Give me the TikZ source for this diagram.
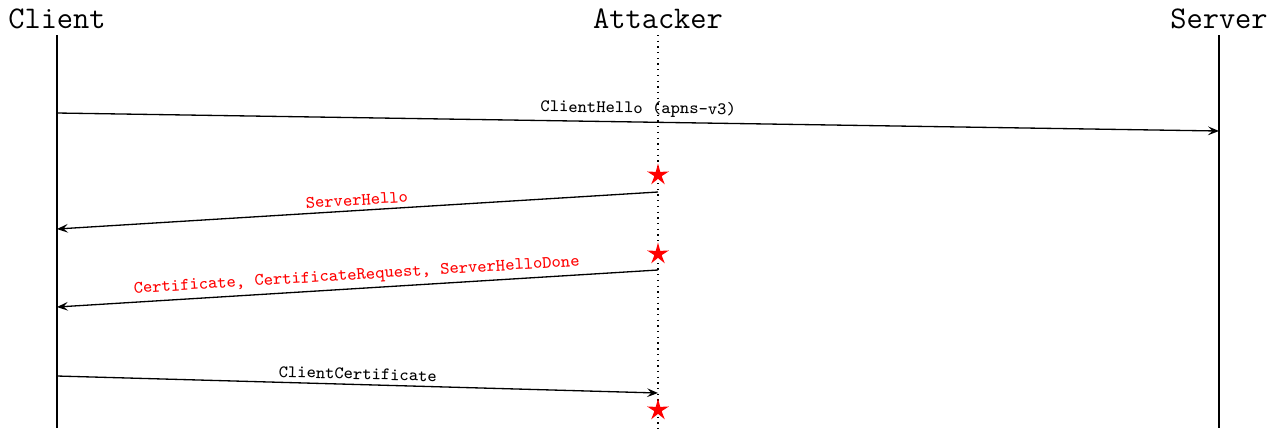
\documentclass[tikz,border=0pt]{standalone}
\usetikzlibrary{arrows.meta,shapes.geometric}
\begin{document}
\begin{tikzpicture}[x=0.4566pt,y=-0.4566pt,
  actor/.style={font=\ttfamily\Large,inner sep=0pt},
  lifeline/.style={semithick},
  msg/.style={semithick,-{Stealth[length=5pt,width=4pt,inset=2pt]}},
  lbl/.style={font=\ttfamily\footnotesize,above=1pt,sloped,inner sep=1pt},
  evil/.style={text=red},
  attack/.style={star,star points=5,star point ratio=3,fill=red,draw=none,minimum size=10.5pt,inner sep=0pt}]
\useasboundingbox (0,0) rectangle (1275,428);
% participants
\node[actor] (client) at (57,19) {Client};
\node[actor] (attacker) at (658,19) {Attacker};
\node[actor] (server) at (1219,19) {Server};
% lifeline ends
\coordinate (cEnd) at (57,428);
\coordinate (aEnd) at (658,428);
\coordinate (sEnd) at (1219,428);
\draw[lifeline] (57,35) -- (cEnd);
\draw[semithick,dotted] (658,35) -- (aEnd);
\draw[lifeline] (1219,35) -- (sEnd);
% message anchors
\coordinate (c1) at (57,113);   \coordinate (s1) at (1219,131);
\coordinate (a2) at (658,192);  \coordinate (c2) at (57,229);
\coordinate (a3) at (658,270);  \coordinate (c3) at (57,307);
\coordinate (c4) at (57,376);   \coordinate (a4) at (658,393);
% forged messages
\node[attack] (x1) at (658,175) {};
\node[attack] (x2) at (658,254) {};
\node[attack] (x3) at (658,410) {};
% messages
\draw[msg] (c1) -- node[lbl] {ClientHello (apns-v3)} (s1);
\draw[msg] (a2) -- node[lbl,evil] {ServerHello} (c2);
\draw[msg] (a3) -- node[lbl,evil] {Certificate, CertificateRequest, ServerHelloDone} (c3);
\draw[msg] (c4) -- node[lbl] {ClientCertificate} (a4);
\end{tikzpicture}
\end{document}
